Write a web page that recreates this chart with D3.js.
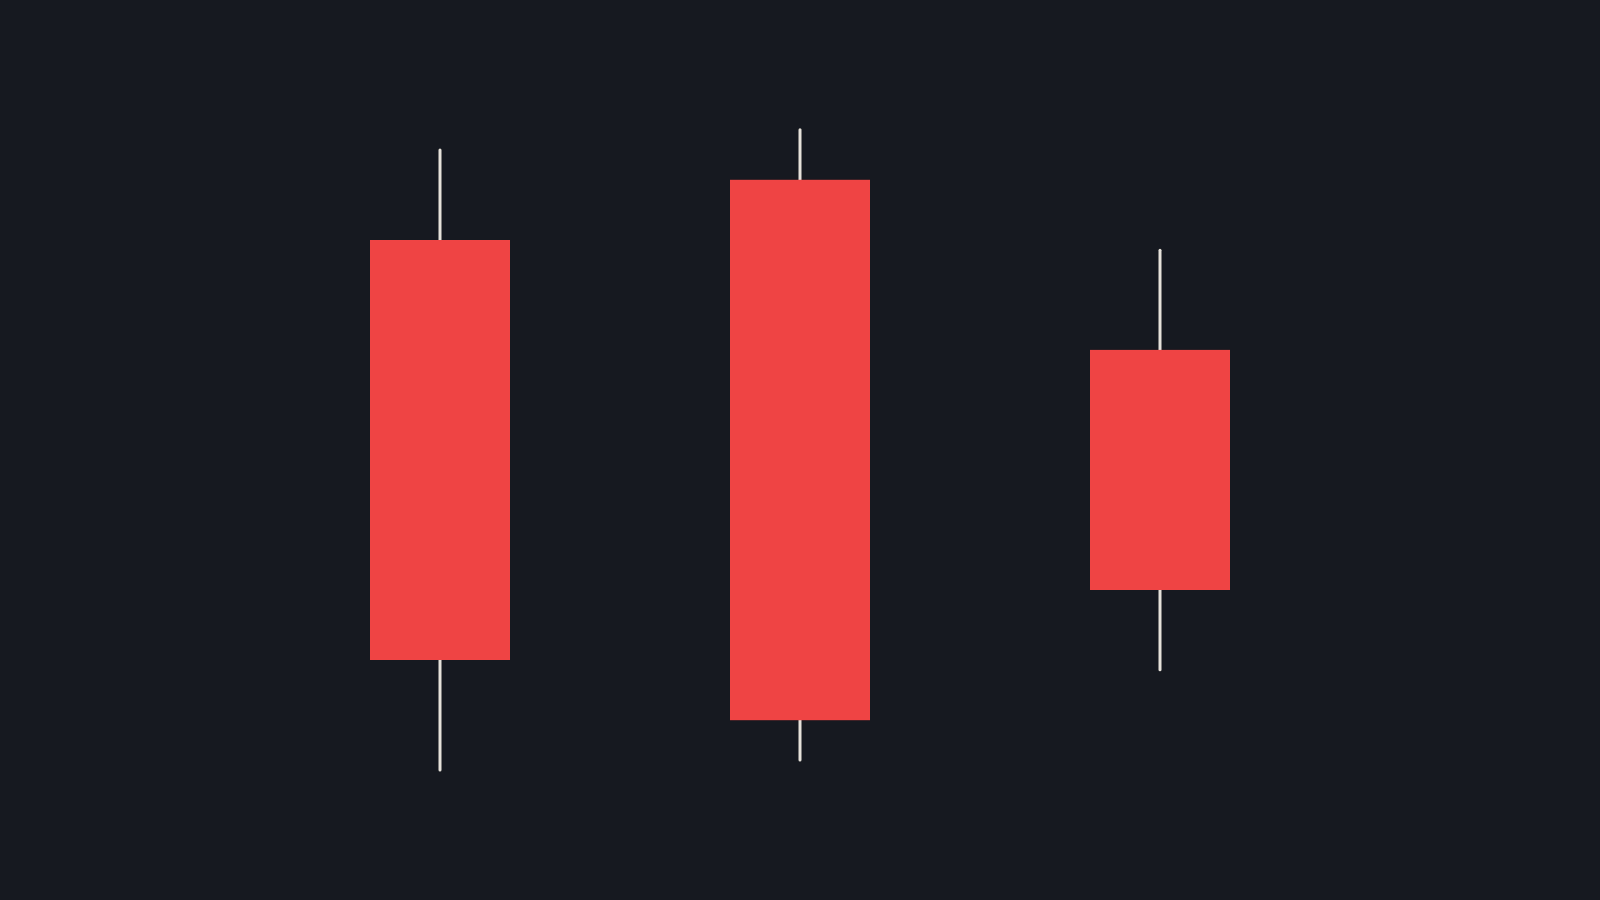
<!DOCTYPE html>
<html>
<head>
<meta charset="utf-8">
<script src="https://cdn.jsdelivr.net/npm/d3@7"></script>
<style>
  html, body { margin: 0; padding: 0; background: #161920; }
  svg { display: block; }
</style>
</head>
<body>
<svg id="chart" width="1600" height="900"></svg>
<script>
const categories = ["C1", "C2", "C3"];
const openValues  = [80.0, 88.6, 64.3];
const highValues  = [92.85, 95.75, 78.55];
const lowValues   = [4.3, 5.7, 18.6];
const closeValues = [20.0, 11.4, 30.0];

const data = categories.map((c, i) => ({
  cat: c, open: openValues[i], high: highValues[i], low: lowValues[i], close: closeValues[i]
}));

const svg = d3.select("#chart");
svg.append("rect").attr("width", 1600).attr("height", 900).attr("fill", "#161920");

const x = d3.scaleBand()
  .domain(categories)
  .range([370, 1230])
  .paddingInner(220 / 360)
  .paddingOuter(0);

const y = d3.scaleLinear().domain([0, 100]).range([800, 100]);

const g = svg.append("g");

g.selectAll("line.wick")
  .data(data)
  .join("line")
  .attr("class", "wick")
  .attr("x1", d => x(d.cat) + x.bandwidth() / 2)
  .attr("x2", d => x(d.cat) + x.bandwidth() / 2)
  .attr("y1", d => y(d.high))
  .attr("y2", d => y(d.low))
  .attr("stroke", "#e6e2da")
  .attr("stroke-width", 3)
  .attr("stroke-linecap", "round");

g.selectAll("rect.body")
  .data(data)
  .join("rect")
  .attr("class", "body")
  .attr("x", d => x(d.cat))
  .attr("width", x.bandwidth())
  .attr("y", d => y(Math.max(d.open, d.close)))
  .attr("height", d => Math.abs(y(d.open) - y(d.close)))
  .attr("fill", d => d.close < d.open ? "#ef4444" : "#22c55e");
</script>
</body>
</html>
